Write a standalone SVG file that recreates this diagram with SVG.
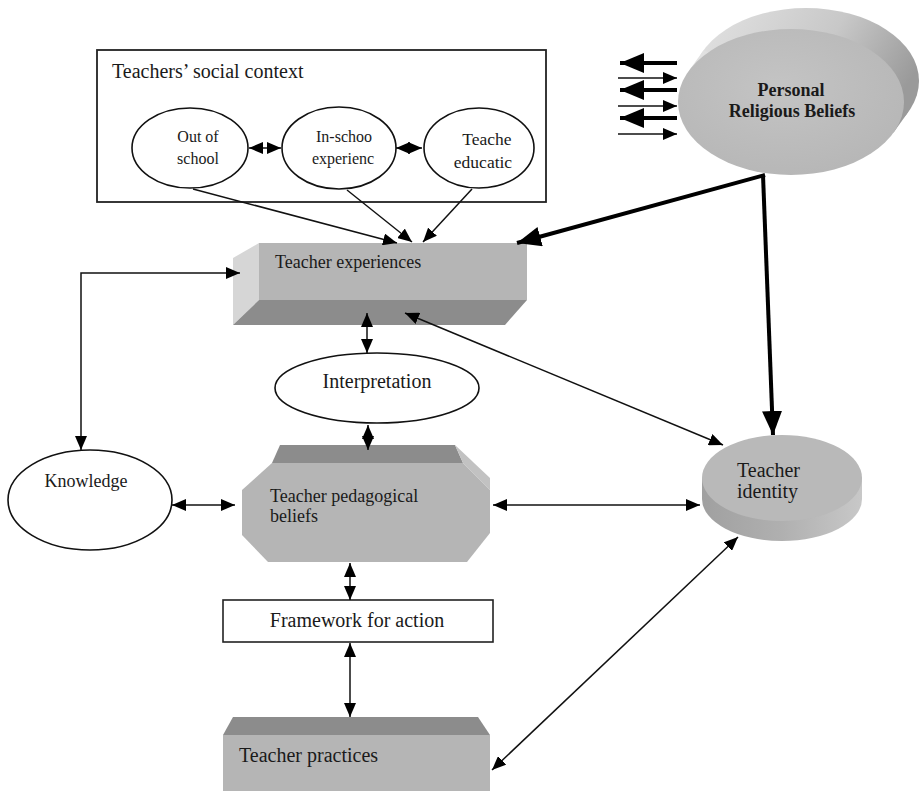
<svg xmlns="http://www.w3.org/2000/svg" width="921" height="791" viewBox="0 0 921 791">
<defs>
<style>
.t{font-family:"Liberation Serif","Times New Roman",serif;fill:#1a1a1a}
.ol{fill:#fff;stroke:#111;stroke-width:1.6}
.ln{fill:none;stroke:#111;stroke-width:1.5}
.thk{fill:none;stroke:#000;stroke-width:4}
.front{fill:#b5b5b5}
.dark{fill:#8c8c8c}
.light{fill:#d6d6d6}
</style>
<marker id="ah" markerUnits="userSpaceOnUse" markerWidth="14" markerHeight="12" refX="14" refY="6" orient="auto-start-reverse" viewBox="0 0 14 12">
<path d="M0,0 L14,6 L0,12 z" fill="#000"/>
</marker>
<marker id="ahk" markerUnits="userSpaceOnUse" markerWidth="24" markerHeight="20" refX="24" refY="10" orient="auto" viewBox="0 0 24 20">
<path d="M0,0 L24,10 L0,20 z" fill="#000"/>
</marker>
<linearGradient id="prbBack" x1="0" y1="0" x2="1" y2="0.4">
<stop offset="0" stop-color="#e4e4e4"/>
<stop offset="0.6" stop-color="#c8c8c8"/>
<stop offset="1" stop-color="#9a9a9a"/>
</linearGradient>
<radialGradient id="prbFace" cx="0.45" cy="0.4" r="0.65">
<stop offset="0" stop-color="#c4c4c4"/>
<stop offset="1" stop-color="#b6b6b6"/>
</radialGradient>
<linearGradient id="idSide" x1="0" y1="0" x2="1" y2="0">
<stop offset="0" stop-color="#a0a0a0"/>
<stop offset="0.5" stop-color="#b0b0b0"/>
<stop offset="1" stop-color="#c8c8c8"/>
</linearGradient>
</defs>
<rect width="921" height="791" fill="#fff"/>

<g id="social-context">
<rect x="97" y="50" width="449" height="152" fill="#fff" stroke="#222" stroke-width="1.8"/>
<text class="t" x="112" y="78" font-size="20">Teachers’ social context</text>
</g>
<g id="out-of-school">
<ellipse class="ol" cx="190" cy="148" rx="58" ry="40"/>
<text class="t" x="198" y="142" font-size="16" text-anchor="middle">Out of</text>
<text class="t" x="198" y="164" font-size="16" text-anchor="middle">school</text>
</g>
<g id="in-school">
<ellipse class="ol" cx="339" cy="148" rx="57" ry="41"/>
<text class="t" x="344" y="142" font-size="16" text-anchor="middle">In-schoo</text>
<text class="t" x="343" y="164" font-size="16" text-anchor="middle">experienc</text>
</g>
<g id="teacher-education">
<ellipse class="ol" cx="479" cy="148" rx="55" ry="40"/>
<text class="t" x="487" y="145" font-size="17.5" text-anchor="middle">Teache</text>
<text class="t" x="483" y="168" font-size="17.5" text-anchor="middle">educatic</text>
</g>

<g id="personal-religious-beliefs">
<ellipse cx="806" cy="81" rx="113" ry="73" fill="url(#prbBack)"/>
<polygon points="688.4,71.4 703.4,50.4 908.6,111.6 893.6,132.6" fill="url(#prbBack)"/>
<ellipse cx="791" cy="102" rx="113" ry="73" fill="url(#prbFace)"/>
<text class="t" x="791" y="96" font-size="18" font-weight="bold" text-anchor="middle">Personal</text>
<text class="t" x="792" y="117" font-size="18" font-weight="bold" text-anchor="middle">Religious Beliefs</text>
</g>

<g id="teacher-experiences">
<polygon class="light" points="233,258 259,243 259,300 233,325"/>
<rect class="front" x="259" y="243" width="268" height="57"/>
<polygon class="dark" points="233,325 259,300 527,300 505,325"/>
<text class="t" x="275" y="268" font-size="18">Teacher experiences</text>
</g>

<g id="interpretation">
<ellipse class="ol" cx="377" cy="388" rx="102" ry="35"/>
<text class="t" x="377" y="388" font-size="20" text-anchor="middle">Interpretation</text>
</g>

<g id="knowledge">
<ellipse class="ol" cx="90" cy="500" rx="82" ry="50"/>
<text class="t" x="86" y="487" font-size="18" text-anchor="middle">Knowledge</text>
</g>

<g id="pedagogical-beliefs">
<polygon class="dark" points="280,445 455,445 463,463 272,463"/>
<polygon fill="#c2c2c2" points="455,445 490,478 490,490 463,463"/>
<polygon class="front" points="272,463 463,463 490,490 490,533 467,562 268,562 242,535 242,490"/>
<text class="t" x="270" y="502" font-size="18">Teacher pedagogical</text>
<text class="t" x="270" y="522" font-size="18">beliefs</text>
</g>

<g id="teacher-identity">
<ellipse cx="782" cy="499" rx="80" ry="42" fill="url(#idSide)"/>
<rect x="702" y="478" width="160" height="21" fill="url(#idSide)"/>
<ellipse cx="782" cy="478" rx="80" ry="43" fill="#b9b9b9"/>
<text class="t" x="737" y="477" font-size="20">Teacher</text>
<text class="t" x="737" y="498" font-size="20">identity</text>
</g>

<g id="framework-for-action">
<rect x="223" y="600" width="270" height="42" fill="#fff" stroke="#222" stroke-width="1.6"/>
<text class="t" x="357" y="627" font-size="20" text-anchor="middle">Framework for action</text>
</g>

<g id="teacher-practices">
<polygon class="dark" points="233,717 478,717 490,735 223,735"/>
<rect class="front" x="223" y="735" width="267" height="56"/>
<text class="t" x="239" y="762" font-size="20">Teacher practices</text>
</g>

<g id="connectors">
<line class="ln" x1="193" y1="189" x2="397" y2="243" marker-end="url(#ah)"/>
<line class="ln" x1="347" y1="190" x2="412" y2="242" marker-end="url(#ah)"/>
<line class="ln" x1="472" y1="189" x2="423" y2="242" marker-end="url(#ah)"/>
<line class="ln" x1="249" y1="148" x2="281" y2="148" marker-start="url(#ah)" marker-end="url(#ah)"/>
<line class="ln" x1="396" y1="148" x2="422" y2="148" marker-start="url(#ah)" marker-end="url(#ah)"/>

<line class="thk" x1="677" y1="63" x2="620" y2="63" marker-end="url(#ahk)"/>
<line class="thk" x1="677" y1="90" x2="620" y2="90" marker-end="url(#ahk)"/>
<line class="thk" x1="677" y1="118" x2="620" y2="118" marker-end="url(#ahk)"/>
<line class="ln" x1="618" y1="78" x2="677" y2="78" marker-end="url(#ah)"/>
<line class="ln" x1="618" y1="106" x2="677" y2="106" marker-end="url(#ah)"/>
<line class="ln" x1="618" y1="134" x2="677" y2="134" marker-end="url(#ah)"/>

<line class="thk" x1="765" y1="175" x2="517" y2="243" marker-end="url(#ahk)"/>
<line class="thk" x1="763" y1="175" x2="773" y2="435" marker-end="url(#ahk)"/>

<polyline class="ln" points="240,273 81,273 81,450" marker-start="url(#ah)" marker-end="url(#ah)"/>
<line class="ln" x1="367" y1="313" x2="367" y2="353" marker-start="url(#ah)" marker-end="url(#ah)"/>
<line class="ln" x1="368" y1="425" x2="368" y2="450" marker-start="url(#ah)" marker-end="url(#ah)"/>
<line class="ln" x1="172" y1="505" x2="235" y2="505" marker-start="url(#ah)" marker-end="url(#ah)"/>
<line class="ln" x1="493" y1="505" x2="700" y2="505" marker-start="url(#ah)" marker-end="url(#ah)"/>
<line class="ln" x1="405" y1="313" x2="723" y2="445" marker-start="url(#ah)" marker-end="url(#ah)"/>
<line class="ln" x1="350" y1="563" x2="350" y2="600" marker-start="url(#ah)" marker-end="url(#ah)"/>
<line class="ln" x1="350" y1="643" x2="350" y2="717" marker-start="url(#ah)" marker-end="url(#ah)"/>
<line class="ln" x1="738" y1="537" x2="492" y2="770" marker-start="url(#ah)" marker-end="url(#ah)"/>
</g>
</svg>
